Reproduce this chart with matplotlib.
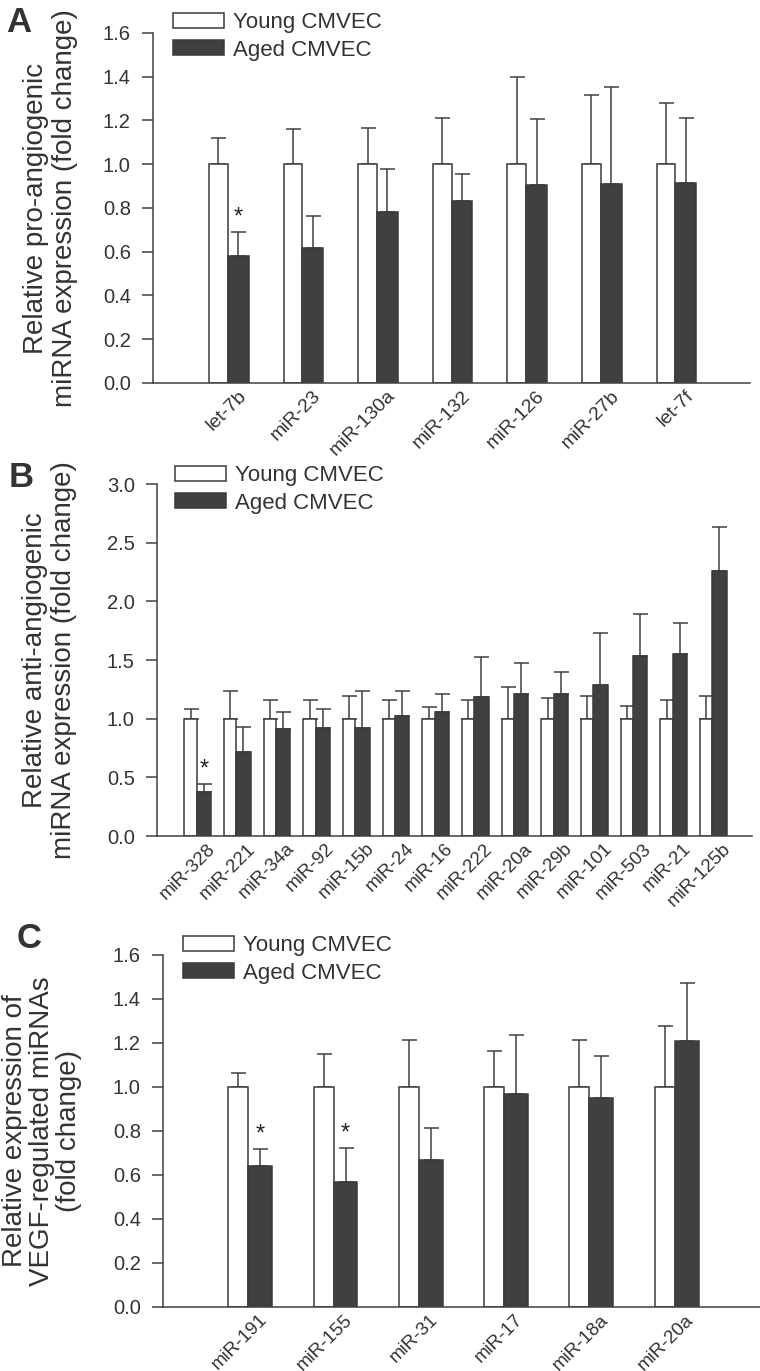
import numpy as np
import matplotlib
matplotlib.use("Agg")
import matplotlib.pyplot as plt
from matplotlib.transforms import ScaledTranslation

plt.rcParams['font.family'] = ['Liberation Sans', 'DejaVu Sans']

# panel A: pro-angiogenic miRNAs
a_labels = ['let-7b', 'miR-23', 'miR-130a', 'miR-132', 'miR-126', 'miR-27b', 'let-7f']
a_young = [1.0, 1.0, 1.0, 1.0, 1.0, 1.0, 1.0]
a_young_err = [0.12, 0.16, 0.165, 0.21, 0.40, 0.315, 0.28]
a_aged = [0.58, 0.615, 0.783, 0.83, 0.903, 0.909, 0.914]
a_aged_err = [0.112, 0.147, 0.195, 0.124, 0.303, 0.443, 0.298]
a_sig = [0]

# panel B: anti-angiogenic miRNAs
b_labels = ['miR-328', 'miR-221', 'miR-34a', 'miR-92', 'miR-15b', 'miR-24', 'miR-16',
            'miR-222', 'miR-20a', 'miR-29b', 'miR-101', 'miR-503', 'miR-21', 'miR-125b']
b_young = [1.0] * 14
b_young_err = [0.086, 0.24, 0.163, 0.157, 0.189, 0.163, 0.097,
               0.163, 0.274, 0.18, 0.197, 0.112, 0.16, 0.189]
b_aged = [0.372, 0.719, 0.913, 0.924, 0.924, 1.021, 1.058,
          1.183, 1.214, 1.214, 1.291, 1.530, 1.550, 2.260]
b_aged_err = [0.074, 0.214, 0.148, 0.156, 0.316, 0.219, 0.156,
              0.344, 0.264, 0.182, 0.441, 0.358, 0.267, 0.376]
b_sig = [0]

# panel C: VEGF-regulated miRNAs
c_labels = ['miR-191', 'miR-155', 'miR-31', 'miR-17', 'miR-18a', 'miR-20a']
c_young = [1.0] * 6
c_young_err = [0.062, 0.148, 0.212, 0.163, 0.214, 0.276]
c_aged = [0.639, 0.568, 0.666, 0.966, 0.951, 1.211]
c_aged_err = [0.079, 0.154, 0.148, 0.271, 0.188, 0.263]
c_sig = [0, 1]

DARK = '#404040'
EDGE = '#3a3a3a'
TXT = '#333333'
W, H = 760, 1371


def px_axes(left, right, top, bottom):
    """Convert pixel box of the reference into figure fractions."""
    return [left / W, 1 - bottom / H, (right - left) / W, (bottom - top) / H]


def draw_panel(ax, labels, young, young_err, aged, aged_err, sig,
               ymax, ystep, wy, wd, xfs):
    """Grouped bar chart, young vs aged with upper error bars only."""
    x = np.arange(len(labels))
    ax.bar(x, young, width=-wy, align='edge', color='white',
           edgecolor=EDGE, linewidth=1.1, label='Young CMVEC', zorder=2)
    ax.bar(x, aged, width=wd, align='edge', color=DARK,
           edgecolor=EDGE, linewidth=1.1, label='Aged CMVEC', zorder=2)

    zeros = np.zeros(len(labels))
    ax.errorbar(x - wy / 2, young, yerr=[zeros, young_err], fmt='none',
                ecolor=DARK, elinewidth=1.1, capsize=5.4, capthick=1.1, zorder=1)
    ax.errorbar(x + wd / 2, aged, yerr=[zeros, aged_err], fmt='none',
                ecolor=DARK, elinewidth=1.1, capsize=5.4, capthick=1.1, zorder=1)

    # significance stars
    for i in sig:
        ax.annotate('*', (x[i] + wd / 2, aged[i] + aged_err[i]),
                    xytext=(0, 6), textcoords='offset points',
                    ha='center', va='baseline', fontsize=17, color='#222222')

    ax.set_xlim(-1, len(labels))
    ax.set_ylim(0, ymax)
    ax.set_yticks(np.arange(0, ymax + ystep / 2, ystep))
    ax.yaxis.set_major_formatter(plt.FormatStrFormatter('%.1f'))
    ax.set_xticks(x)
    ax.set_xticklabels(labels, rotation=45, ha='right', va='top',
                       rotation_mode='anchor', fontsize=xfs, color=TXT)

    for side in ['top', 'right']:
        ax.spines[side].set_visible(False)
    for side in ['left', 'bottom']:
        ax.spines[side].set_color(DARK)
        ax.spines[side].set_linewidth(1.1)
    ax.tick_params(axis='y', direction='out', length=8, width=1.1, color=DARK,
                   pad=8, labelsize=14.5, labelcolor=TXT)
    ax.tick_params(axis='x', length=0, pad=3)

    # shift the rotated labels a bit to the right like the original
    shift = ScaledTranslation(10 / 100, 0, ax.figure.dpi_scale_trans)
    for lbl in ax.get_xticklabels():
        lbl.set_transform(lbl.get_transform() + shift)


def add_legend(ax, fig, x_px, y_px):
    """Frameless legend placed above the plot area."""
    ax.legend(loc='upper left', bbox_to_anchor=(x_px / W, 1 - y_px / H),
              bbox_transform=fig.transFigure, frameon=False, fontsize=16,
              handlelength=2.3, handleheight=0.65, handletextpad=0.4,
              labelspacing=0.3, borderpad=0, borderaxespad=0,
              labelcolor=TXT)


fig = plt.figure(figsize=(W / 100, H / 100), dpi=100)

ax_a = fig.add_axes(px_axes(153, 750, 33, 383))
draw_panel(ax_a, a_labels, a_young, a_young_err, a_aged, a_aged_err, a_sig,
           1.6, 0.2, 0.25, 0.28, 14)
ax_a.set_ylabel('Relative pro-angiogenic\nmiRNA expression (fold change)',
                fontsize=20, va='center', linespacing=1.15, color=TXT)
ax_a.yaxis.set_label_coords(-0.172, 0.5)
add_legend(ax_a, fig, 173, 12)

ax_b = fig.add_axes(px_axes(157, 752, 484, 836))
draw_panel(ax_b, b_labels, b_young, b_young_err, b_aged, b_aged_err, b_sig,
           3.0, 0.5, 0.31, 0.36, 13.5)
ax_b.set_ylabel('Relative anti-angiogenic\nmiRNA expression (fold change)',
                fontsize=20, va='center', linespacing=1.15, color=TXT)
ax_b.yaxis.set_label_coords(-0.18, 0.5)
add_legend(ax_b, fig, 175, 465)

ax_c = fig.add_axes(px_axes(163, 760, 955, 1307))
draw_panel(ax_c, c_labels, c_young, c_young_err, c_aged, c_aged_err, c_sig,
           1.6, 0.2, 0.235, 0.28, 13.5)
ax_c.set_ylabel('Relative expression of\nVEGF-regulated miRNAs\n(fold change)',
                fontsize=20, va='center', linespacing=1.05, color=TXT)
ax_c.yaxis.set_label_coords(-0.203, 0.5)
add_legend(ax_c, fig, 183, 935)

# panel letters
fig.text(6 / W, 1 - 6 / H, 'A', fontsize=25, fontweight='bold', va='top', color=TXT)
fig.text(9 / W, 1 - 461 / H, 'B', fontsize=25, fontweight='bold', va='top', color=TXT)
fig.text(17 / W, 1 - 922 / H, 'C', fontsize=25, fontweight='bold', va='top', color=TXT)

fig.savefig('out.png', dpi=100)
